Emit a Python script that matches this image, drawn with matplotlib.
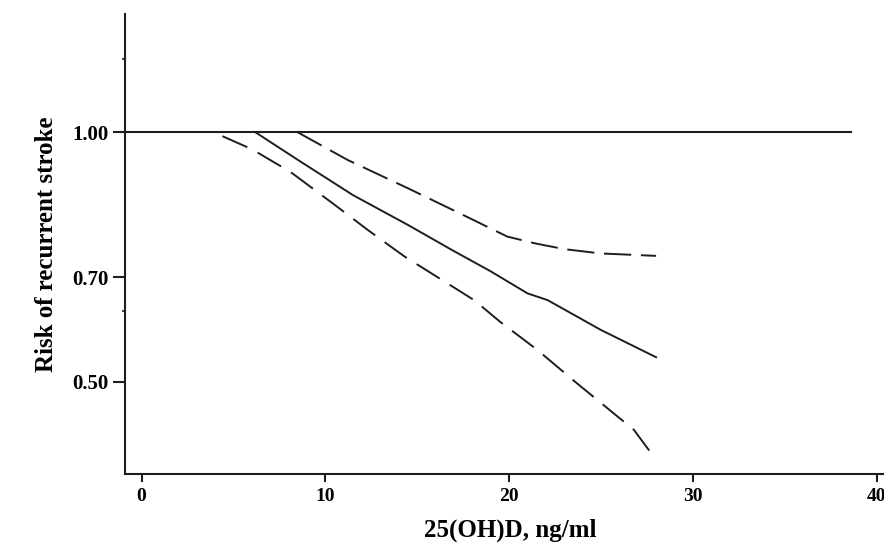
import numpy as np
import matplotlib.pyplot as plt

# 25(OH)D values (ng/ml) and risk estimates
est_x = [6.2, 8.5, 11.5, 14.5, 16.9, 19.0, 21.0, 22.1, 25.0, 28.0]
est_y = [1.00, 0.943, 0.870, 0.808, 0.756, 0.712, 0.669, 0.656, 0.599, 0.547]

upper_x = [8.5, 11.2, 14.5, 17.7, 19.9, 21.4, 23.0, 25.0, 28.0]
upper_y = [1.00, 0.943, 0.884, 0.825, 0.784, 0.770, 0.758, 0.749, 0.744]

lower_x = [4.4, 6.0, 8.1, 10.5, 12.3, 14.3, 18.1, 19.5, 21.5, 23.7, 26.8, 28.0]
lower_y = [0.992, 0.965, 0.918, 0.850, 0.798, 0.743, 0.656, 0.615, 0.562, 0.497, 0.408, 0.351]

ref_x = [-0.9, 38.6]
ref_y = [1.0, 1.0]

xticks = [0, 10, 20, 30, 40]
yticks = [0.50, 0.70, 1.00]
yminor = [0.635, 1.151]

# the printed axis is not linear nor log: piecewise map between tick values
scale_vals = [0.2, 0.5, 0.7, 1.0, 1.5]
scale_pos = [-538.9, -381.8, -277.1, -132.3, 109.1]

def fwd(v):
    return np.interp(v, scale_vals, scale_pos)

def inv(p):
    return np.interp(p, scale_pos, scale_vals)

plt.rcParams['font.family'] = ['Liberation Serif', 'DejaVu Serif']

fig = plt.figure(figsize=(8.84, 5.44), dpi=100)
ax = fig.add_axes([125 / 884, 1 - 474 / 544, 770 / 884, 460 / 544])
ax.set_yscale('function', functions=(fwd, inv))

col = '#1e1e1e'
ax.plot(ref_x, ref_y, color=col, lw=1.5)
ax.plot(est_x, est_y, color=col, lw=1.4)
ax.plot(upper_x, upper_y, color=col, lw=1.4, dashes=(14, 5))
ax.plot(lower_x, lower_y, color=col, lw=1.4, dashes=(14, 6))

ax.set_xlim(-0.9, 41.0)
ax.set_ylim(0.324, 1.245)

ax.set_xticks(xticks)
ax.set_xticklabels([str(t) for t in xticks], fontsize=14, fontweight='bold')
ax.set_yticks(yticks)
ax.set_yticklabels(['%.2f' % t for t in yticks], fontsize=15, fontweight='bold')
ax.set_yticks(yminor, minor=True)
ax.tick_params(axis='y', which='major', length=9, width=1.5, color=col, pad=3)
ax.tick_params(axis='y', which='minor', length=2, width=1.2, color=col)
ax.tick_params(axis='x', which='major', length=6, width=1.5, color=col, pad=4)

for s in ['top', 'right']:
    ax.spines[s].set_visible(False)
for s in ['left', 'bottom']:
    ax.spines[s].set_linewidth(1.5)
    ax.spines[s].set_color(col)

ax.set_ylabel('Risk of recurrent stroke', fontsize=18, fontweight='bold', labelpad=10)
ax.set_xlabel('25(OH)D, ng/ml', fontsize=18, fontweight='bold', labelpad=10)

fig.savefig('out.png', dpi=100)
